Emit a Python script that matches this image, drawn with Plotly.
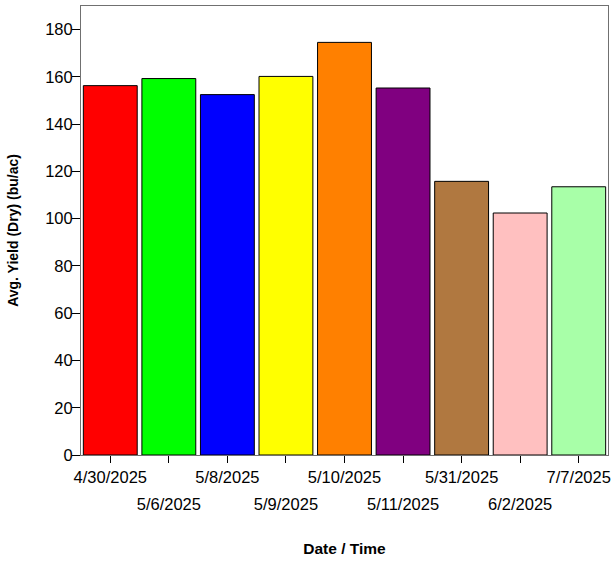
import plotly.graph_objects as go

dates = ["4/30/2025", "5/6/2025", "5/8/2025", "5/9/2025", "5/10/2025",
         "5/11/2025", "5/31/2025", "6/2/2025", "7/7/2025"]
yields = [156.3, 159.3, 152.5, 160.2, 174.6, 155.3, 115.8, 102.4, 113.5]
colors = ["#ff0000", "#00ff00", "#0000ff", "#ffff00", "#ff8000",
          "#800080", "#b07840", "#ffc0c0", "#a8ffa8"]
y_ticks = [0, 20, 40, 60, 80, 100, 120, 140, 160, 180]

idx = list(range(len(dates)))
even_idx = [i for i in idx if i % 2 == 0]
odd_idx = [i for i in idx if i % 2 == 1]

fig = go.Figure()
fig.add_trace(go.Bar(
    x=idx, y=yields,
    marker=dict(color=colors, line=dict(color="#000000", width=1)),
    width=0.92,
))
# invisible helper so the second (lower) label row axis is drawn
fig.add_trace(go.Scatter(x=[0], y=[0], xaxis="x2", mode="markers",
                         marker=dict(opacity=0), hoverinfo="skip"))

tick_font = dict(family="Liberation Sans, Arial, sans-serif", size=16.5, color="#000000")

fig.update_layout(
    width=613, height=562,
    margin=dict(l=81, r=5, t=6, b=107),
    paper_bgcolor="white", plot_bgcolor="white",
    font=dict(family="Liberation Sans, Arial, sans-serif", color="#000000", size=16),
    showlegend=False,
    xaxis=dict(
        range=[-0.5, 8.5], tickmode="array", tickvals=even_idx,
        ticktext=[dates[i] for i in even_idx],
        ticks="outside", ticklen=7, tickcolor="#000000", tickfont=tick_font,
        showline=True, linecolor="#707070", linewidth=1, mirror=True,
        showgrid=False, zeroline=False, tickangle=0, automargin=False,
        title=dict(text="<b>Date / Time</b>", font=dict(size=15.5), standoff=58),
    ),
    xaxis2=dict(
        range=[-0.5, 8.5], overlaying="x", anchor="y", side="bottom",
        tickmode="array", tickvals=odd_idx, ticktext=[dates[i] for i in odd_idx],
        ticks="outside", ticklen=7, tickcolor="#000000", tickfont=tick_font,
        ticklabelstandoff=27, showline=False, showgrid=False, zeroline=False,
        tickangle=0, automargin=False,
    ),
    yaxis=dict(
        range=[0, 190], tickmode="array", tickvals=y_ticks,
        ticks="outside", ticklen=8, tickcolor="#000000", tickfont=tick_font,
        ticklabelstandoff=-4,
        showline=True, linecolor="#707070", linewidth=1, mirror=True,
        showgrid=False, zeroline=False, automargin=False,
        title=dict(text="<b>Avg. Yield (Dry) (bu/ac)</b>", font=dict(size=14), standoff=23),
    ),
)

fig.write_html("out.html", config={"displayModeBar": False},
               post_script="document.body.style.margin='0';document.body.style.overflow='hidden';")
